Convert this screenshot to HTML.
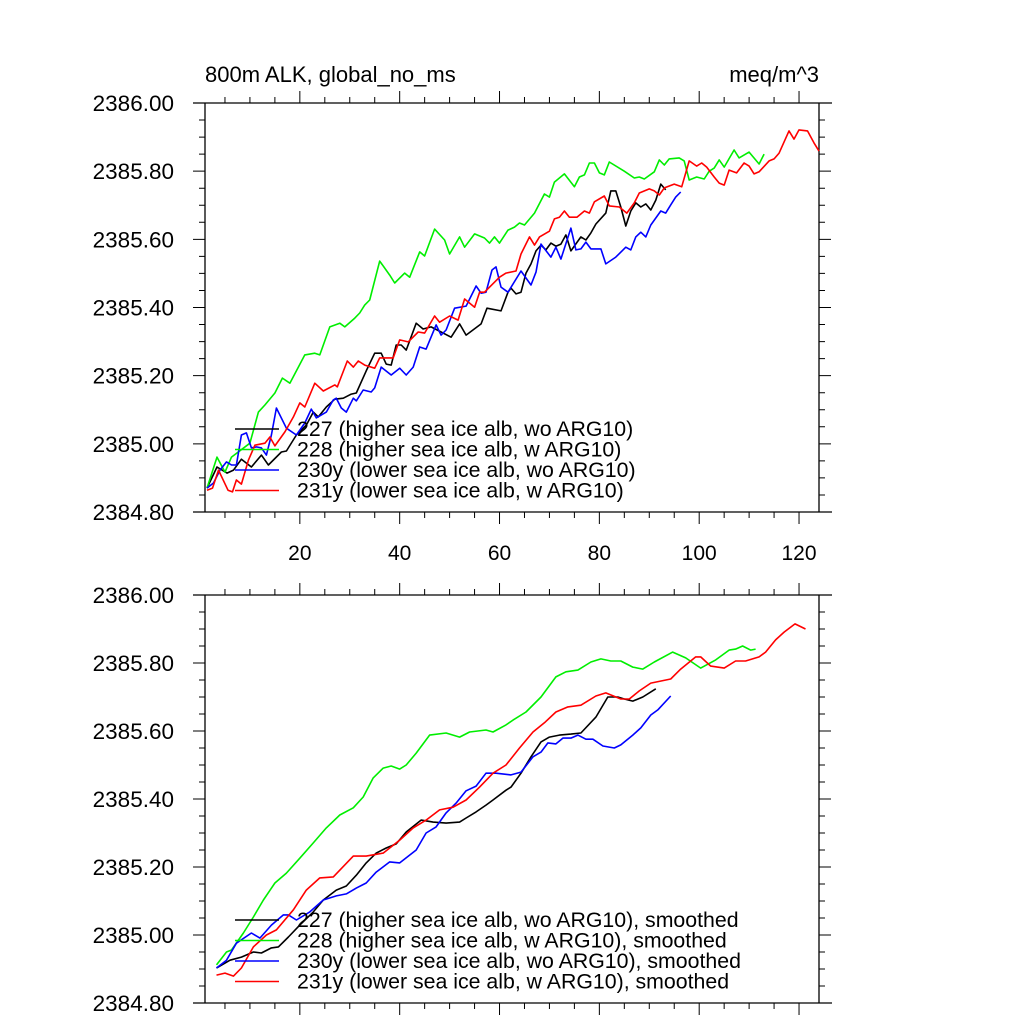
<!DOCTYPE html>
<html><head><meta charset="utf-8">
<style>
html,body{margin:0;padding:0;background:#fff;}
svg{display:block;font-family:"Liberation Sans",sans-serif;}
</style></head>
<body>
<svg id="chart" width="1024" height="1024" viewBox="0 0 1024 1024" xmlns="http://www.w3.org/2000/svg">
<rect width="1024" height="1024" fill="#fff"/>
<text x="205" y="82" font-size="22">800m ALK, global_no_ms</text>
<text x="819" y="82" font-size="22" text-anchor="end">meq/m^3</text>
<g id="top"></g>
<g id="bot"></g>
</svg>
<script>
// ---- data: raw annual series (top panel) ----
const x227 = [1.4,3.4,5.4,6.7,8.3,10.3,12.3,13.7,16.3,17.3,19.3,21.3,22.7,23.7,25.3,27,28.7,30.3,31.3,33.3,35,36.3,37.3,38.3,39.3,40.3,41.3,43.3,44.7,46.3,48.3,50.3,52,53.3,56.3,57.5,60.3,61.7,62.3,63.3,64.3,65.3,66.3,67.3,68.3,69.3,70.3,71.3,72.3,73.3,74.3,76.3,77.3,78.3,79.3,81.3,82.3,83.3,84.3,85.3,86.3,87.3,88.3,89.3,90.3,91.3,92.3,93.3];
const y227 = [2384.870,2384.932,2384.914,2384.923,2384.955,2384.932,2384.967,2384.938,2384.976,2384.979,2385.026,2385.055,2385.093,2385.079,2385.108,2385.131,2385.134,2385.146,2385.149,2385.214,2385.266,2385.266,2385.234,2385.231,2385.290,2385.290,2385.275,2385.354,2385.337,2385.343,2385.328,2385.313,2385.352,2385.319,2385.352,2385.398,2385.390,2385.445,2385.457,2385.440,2385.445,2385.501,2385.528,2385.566,2385.583,2385.569,2385.589,2385.580,2385.586,2385.613,2385.566,2385.607,2385.598,2385.619,2385.645,2385.677,2385.742,2385.742,2385.695,2385.639,2385.683,2385.707,2385.695,2385.704,2385.686,2385.715,2385.762,2385.745];
const x228 = [1.4,3.4,5,6.3,10,11.7,13,15,16.5,18,21,23,24,26,28,29,31,32,33,34,36,38,39,41,42,44,45,47,49,50,52,53,55,57,58,59,60,61.7,63,64,65,67,69,70,71,73,75,76,77,78,79,80,81,82,85,87,88,89,91,92,93,94,96,97,98,99.5,101,102,103,104,105,107,108,110,112,113];
const y228 = [2384.870,2384.961,2384.917,2384.961,2385.002,2385.093,2385.114,2385.149,2385.193,2385.178,2385.261,2385.266,2385.261,2385.343,2385.354,2385.343,2385.369,2385.384,2385.407,2385.422,2385.536,2385.495,2385.472,2385.501,2385.489,2385.563,2385.551,2385.630,2385.598,2385.557,2385.607,2385.577,2385.616,2385.604,2385.589,2385.607,2385.589,2385.627,2385.636,2385.648,2385.642,2385.677,2385.733,2385.724,2385.768,2385.792,2385.754,2385.783,2385.789,2385.824,2385.824,2385.795,2385.789,2385.827,2385.800,2385.780,2385.783,2385.777,2385.798,2385.833,2385.818,2385.836,2385.839,2385.830,2385.774,2385.783,2385.777,2385.800,2385.809,2385.833,2385.812,2385.862,2385.839,2385.856,2385.821,2385.850];
const x230 = [1.4,2.7,4,5.3,6.3,7.3,8.3,9.3,10.3,11.3,12.3,13.3,14.3,15.3,17.3,19.3,21,22.3,23.3,25.3,26.7,27.3,28.3,29.3,30.7,31.3,32.7,34.3,35,36.3,38.3,40,41.3,42.7,44,45.3,47.3,48.3,49.3,51,53.3,55.3,56.3,57.3,58.5,59.3,60.3,61.7,64.3,66.3,67.3,68.3,70.3,71.3,72.3,74.3,75.3,76.3,77.3,78.3,80.3,81.3,83.3,85.3,86.3,87.3,88.3,89.3,90.3,92.3,93.3,94.3,95.3,96.3];
const y230 = [2384.870,2384.885,2384.923,2384.947,2384.938,2384.938,2385.026,2385.032,2384.988,2384.991,2384.988,2384.967,2385.026,2385.105,2385.046,2385.026,2385.061,2385.102,2385.076,2385.093,2385.129,2385.134,2385.105,2385.093,2385.134,2385.126,2385.158,2385.152,2385.164,2385.225,2385.202,2385.222,2385.202,2385.225,2385.284,2385.278,2385.349,2385.319,2385.334,2385.398,2385.404,2385.463,2385.442,2385.445,2385.510,2385.519,2385.460,2385.445,2385.507,2385.466,2385.504,2385.586,2385.548,2385.577,2385.542,2385.633,2385.569,2385.572,2385.592,2385.572,2385.572,2385.528,2385.548,2385.577,2385.569,2385.607,2385.621,2385.607,2385.642,2385.683,2385.677,2385.701,2385.724,2385.739];
const x231 = [1.4,2.5,3.7,5.6,6.5,7.3,8.3,9.7,11,13,14,15,17,18.7,20,21,23,24.7,27,27.5,29.5,30.7,31.7,33,35,36,38.7,40,41.7,43.7,45,47,48,50,51.7,53,55,56,57,60,61.3,63.3,64.3,66,67,68,70,71,72,73,74,75.5,77,78,79,81,82,84,85.5,87,88,90,91,92,93,95,96.5,98,99.5,100.5,101.5,103,104,105,106,107.5,109,110,111,112,114,115,116,118,119,120,121.7,123,124];
const y231 = [2384.864,2384.870,2384.923,2384.864,2384.859,2384.894,2384.882,2384.952,2384.996,2385.002,2385.020,2384.994,2385.035,2385.079,2385.120,2385.108,2385.178,2385.155,2385.173,2385.167,2385.243,2385.225,2385.243,2385.231,2385.222,2385.252,2385.252,2385.305,2385.299,2385.328,2385.325,2385.375,2385.357,2385.375,2385.363,2385.425,2385.401,2385.445,2385.445,2385.489,2385.501,2385.507,2385.557,2385.607,2385.583,2385.607,2385.624,2385.660,2385.665,2385.683,2385.665,2385.665,2385.683,2385.677,2385.710,2385.727,2385.698,2385.695,2385.677,2385.707,2385.736,2385.748,2385.742,2385.730,2385.751,2385.762,2385.754,2385.830,2385.815,2385.824,2385.812,2385.783,2385.765,2385.759,2385.803,2385.795,2385.824,2385.815,2385.792,2385.798,2385.830,2385.836,2385.853,2385.918,2385.894,2385.921,2385.918,2385.883,2385.859];
// ---- data: smoothed series (bottom panel) ----
const sx227 = [3.3,6,8.3,10.7,12.3,14.3,15.7,17.7,20,22.7,24.7,27.3,29.3,31.3,33.3,35.3,37.3,39.3,41.3,44.3,46.7,49.3,52,53.3,55.3,57.3,58.7,61.3,62.3,64.3,66.3,68.3,70,72,74.3,76.3,79.3,81.7,83.7,85,86.7,88.7,91.3];
const sy227 = [2384.903,2384.926,2384.935,2384.950,2384.947,2384.962,2384.965,2384.994,2385.029,2385.068,2385.103,2385.132,2385.144,2385.176,2385.212,2385.241,2385.256,2385.268,2385.303,2385.338,2385.332,2385.329,2385.332,2385.344,2385.362,2385.382,2385.397,2385.426,2385.435,2385.476,2385.524,2385.568,2385.582,2385.588,2385.591,2385.594,2385.641,2385.700,2385.700,2385.694,2385.688,2385.700,2385.724];
const sx228 = [3.3,5.3,6.3,8.7,10.7,12.7,15,17.3,20,22.7,25.3,28,30.7,32.7,34.7,36.7,38.3,40,41.3,43.3,46,49.3,52,54,57.3,58.7,61.3,62.7,65.3,68.3,71.3,73.3,75.7,78.3,80.3,82.3,84.3,86.7,88.7,91,94.7,97.3,100.3,103.3,106,107.3,108.7,110.3,111.3];
const sy228 = [2384.912,2384.950,2384.956,2385.006,2385.053,2385.103,2385.153,2385.182,2385.226,2385.271,2385.315,2385.353,2385.374,2385.406,2385.462,2385.491,2385.497,2385.488,2385.500,2385.535,2385.588,2385.594,2385.582,2385.597,2385.603,2385.597,2385.618,2385.632,2385.656,2385.700,2385.759,2385.774,2385.779,2385.803,2385.812,2385.806,2385.806,2385.788,2385.782,2385.803,2385.832,2385.815,2385.785,2385.809,2385.838,2385.841,2385.850,2385.838,2385.841];
const sx230 = [3.3,5.3,7.3,10.3,12,14.3,16.7,17.7,19.3,22,24.7,27.3,29.3,31.3,33.3,35.3,38,40,43.3,45.3,47.3,49.3,51.3,53.3,55.3,57.3,59.3,62.3,64.3,66.7,68.3,69.7,71.3,72.7,74.3,75.7,77.3,78.7,80.7,83,84.3,86.7,88.3,90.3,91.7,94.3];
const sy230 = [2384.903,2384.926,2384.976,2385.006,2384.991,2385.029,2385.059,2385.059,2385.044,2385.068,2385.103,2385.115,2385.121,2385.138,2385.153,2385.185,2385.215,2385.212,2385.250,2385.300,2385.318,2385.359,2385.388,2385.424,2385.438,2385.476,2385.476,2385.471,2385.479,2385.524,2385.538,2385.565,2385.562,2385.579,2385.579,2385.588,2385.576,2385.576,2385.556,2385.550,2385.559,2385.588,2385.609,2385.647,2385.662,2385.703];
const sx231 = [3.3,5,6.7,8.3,10.7,13.3,15.3,18.7,21.3,24,26.7,30.7,33.3,36.7,40,42.7,45.3,48,50.7,53.3,56,58.7,61.3,64,66.7,69,71.3,73.7,76.3,79.3,81.3,84.3,86,88,90.3,94.3,96.3,99.3,100.3,102.3,105,107.3,109.3,112,113.3,115.3,117,119.2,121.3];
const sy231 = [2384.882,2384.888,2384.879,2384.903,2384.965,2385.000,2385.015,2385.074,2385.132,2385.168,2385.171,2385.232,2385.232,2385.241,2385.279,2385.315,2385.338,2385.368,2385.376,2385.397,2385.435,2385.476,2385.500,2385.550,2385.597,2385.624,2385.656,2385.671,2385.676,2385.703,2385.712,2385.694,2385.694,2385.718,2385.741,2385.753,2385.782,2385.818,2385.818,2385.791,2385.785,2385.806,2385.806,2385.818,2385.832,2385.868,2385.891,2385.915,2385.900];
const yTickLabels = ["2384.80","2385.00","2385.20","2385.40","2385.60","2385.80","2386.00"];
const xTickLabels = ["20","40","60","80","100","120"];
const legendRaw = ["227 (higher sea ice alb, wo ARG10)","228 (higher sea ice alb, w ARG10)","230y (lower sea ice alb, wo ARG10)","231y (lower sea ice alb, w ARG10)"];
const legendSmooth = ["227 (higher sea ice alb, wo ARG10), smoothed","228 (higher sea ice alb, w ARG10), smoothed","230y (lower sea ice alb, wo ARG10), smoothed","231y (lower sea ice alb, w ARG10), smoothed"];

const NS = "http://www.w3.org/2000/svg";
const X0 = 205, X1 = 819, XMIN = 1, XMAX = 124, YMIN = 2384.8, YMAX = 2386.0;
const colors = ["#000000","#00ee00","#0000ff","#ff0000"];
const names = ["227","228","230y","231y"];
function sx(v){ return X0 + (v - XMIN) / (XMAX - XMIN) * (X1 - X0); }
function mkY(top, bot){ return v => bot - (v - YMIN) / (YMAX - YMIN) * (bot - top); }
function el(tag, attrs, parent){ const e = document.createElementNS(NS, tag); for (const k in attrs) e.setAttribute(k, attrs[k]); parent.appendChild(e); return e; }

function panel(g, top, bot, series, legend, legendY, showXLabels, prefix){
  const sy = mkY(top, bot);
  const fr = el("path", {d:`M193 ${top}H832M193 ${bot}H832M${X0} ${top}V${bot}M${X1} ${top}V${bot}`, stroke:"#000", "stroke-width":"1.3", fill:"none"}, g);
  
  
  for (let i = 0; i <= 24; i++){
    const v = YMIN + i * 0.05, y = sy(v), major = i % 4 === 0, len = major ? 12 : 6;
    const t1 = el("path", {d:`M${X0} ${y}H${X0 - len}M${X1} ${y}H${X1 + len}`, stroke:"#000", "stroke-width":"1"}, g);
    
    
    if (major){
      const t = el("text", {x:174, y:y + 8, "font-size":"22.5", "text-anchor":"end"}, g);
      t.textContent = yTickLabels[i / 4];
      
      
    }
  }
  for (let v = 5; v <= 120; v += 5){
    const x = sx(v), major = v % 20 === 0, len = major ? 12 : 6;
    const t2 = el("path", {d:`M${x} ${top}V${top - len}M${x} ${bot}V${bot + len}`, stroke:"#000", "stroke-width":"1"}, g);
    
    
    if (major && showXLabels){
      const t = el("text", {x:x, y:bot + 48, "font-size":"21", "text-anchor":"middle"}, g);
      t.textContent = xTickLabels[v / 20 - 1];
      
      
    }
  }
  series.forEach((s, k) => {
    const d = s[0].map((xv, i) => (i ? "L" : "M") + sx(xv).toFixed(1) + " " + sy(s[1][i]).toFixed(1)).join("");
    const p = el("path", {d:d, stroke:colors[k], "stroke-width":"1.6", fill:"none", "stroke-linejoin":"round"}, g);
    
    
  });
  legend.forEach((txt, k) => {
    const y = legendY + k * 20.5;
    const ln = el("line", {x1:235, x2:279, y1:y, y2:y, stroke:colors[k], "stroke-width":"1.6"}, g);
    
    
    const t = el("text", {x:297, y:y + 7, "font-size":"21.3"}, g);
    t.textContent = txt;
    
    
  });
}
panel(document.getElementById("top"), 103, 512, [[x227,y227],[x228,y228],[x230,y230],[x231,y231]], legendRaw, 429, true, "raw");
panel(document.getElementById("bot"), 595, 1003, [[sx227,sy227],[sx228,sy228],[sx230,sy230],[sx231,sy231]], legendSmooth, 920, false, "smoothed");
</script>
</body></html>
